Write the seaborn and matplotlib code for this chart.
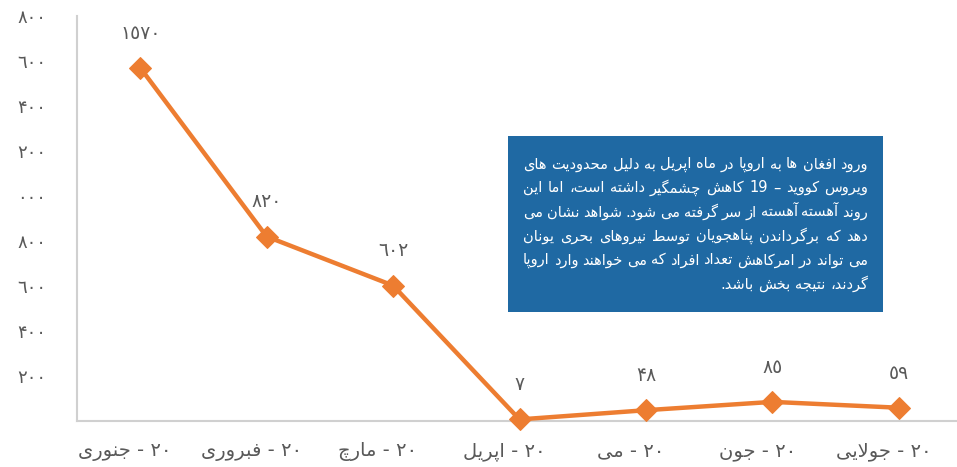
import matplotlib
matplotlib.use("Agg")
import matplotlib.pyplot as plt
import seaborn as sns
import pandas as pd
from matplotlib.patches import Rectangle

# ---------------- data ----------------
months = ["جنوری", "فبروری", "مارچ", "اپریل", "می", "جون", "جولایی"]
year_tag = "20"
arrivals = [1570, 820, 602, 7, 48, 85, 59]
y_ticks = [200, 400, 600, 800, 1000, 1200, 1400, 1600, 1800]
y_tick_labels = ["200", "400", "600", "800", "000", "200", "400", "600", "800"]
note_lines = [
    "ورود افغان ها به اروپا در ماه اپریل به دلیل محدودیت های",
    "ویروس کووید – 19 کاهش چشمگیر داشته است، اما  این",
    "روند آهسته آهسته از سر گرفته می شود. شواهد نشان می",
    "دهد که برگرداندن پناهجویان توسط نیروهای بحری یونان",
    "می تواند در امرکاهش تعداد افراد که می خواهند وارد اروپا",
    "گردند، نتیجه بخش باشد.",
]

# ---------------- Arabic shaping + right-to-left ordering ----------------
def _rng(start, n):
    return tuple(chr(start + k) for k in range(n))

FORMS = {
    "\u0621": ("\uFE80",),
    "\u0622": _rng(0xFE81, 2), "\u0623": _rng(0xFE83, 2), "\u0624": _rng(0xFE85, 2),
    "\u0625": _rng(0xFE87, 2), "\u0626": _rng(0xFE89, 4), "\u0627": _rng(0xFE8D, 2),
    "\u0628": _rng(0xFE8F, 4), "\u0629": _rng(0xFE93, 2), "\u062A": _rng(0xFE95, 4),
    "\u062B": _rng(0xFE99, 4), "\u062C": _rng(0xFE9D, 4), "\u062D": _rng(0xFEA1, 4),
    "\u062E": _rng(0xFEA5, 4), "\u062F": _rng(0xFEA9, 2), "\u0630": _rng(0xFEAB, 2),
    "\u0631": _rng(0xFEAD, 2), "\u0632": _rng(0xFEAF, 2), "\u0633": _rng(0xFEB1, 4),
    "\u0634": _rng(0xFEB5, 4), "\u0635": _rng(0xFEB9, 4), "\u0636": _rng(0xFEBD, 4),
    "\u0637": _rng(0xFEC1, 4), "\u0638": _rng(0xFEC5, 4), "\u0639": _rng(0xFEC9, 4),
    "\u063A": _rng(0xFECD, 4), "\u0641": _rng(0xFED1, 4), "\u0642": _rng(0xFED5, 4),
    "\u0643": _rng(0xFED9, 4), "\u0644": _rng(0xFEDD, 4), "\u0645": _rng(0xFEE1, 4),
    "\u0646": _rng(0xFEE5, 4), "\u0647": _rng(0xFEE9, 4), "\u0648": _rng(0xFEED, 2),
    "\u0649": _rng(0xFEEF, 2), "\u064A": _rng(0xFEF1, 4),
    "\u067E": _rng(0xFB56, 4), "\u0686": _rng(0xFB7A, 4), "\u0698": _rng(0xFB8A, 2),
    "\u06A9": _rng(0xFB8E, 4), "\u06AF": _rng(0xFB92, 4), "\u06CC": _rng(0xFBFC, 4),
}
LAM_ALEF = {"\u0627": ("\uFEFB", "\uFEFC"), "\u0622": ("\uFEF5", "\uFEF6"),
            "\u0623": ("\uFEF7", "\uFEF8"), "\u0625": ("\uFEF9", "\uFEFA")}

def shape_word(w):
    """Return the visual (left-to-right drawn) form of one logical word."""
    if not any(c in FORMS for c in w):
        return w
    units, i = [], 0
    while i < len(w):
        c = w[i]
        if c == "\u0644" and i + 1 < len(w) and w[i + 1] in LAM_ALEF:
            units.append(LAM_ALEF[w[i + 1]]); i += 2
        elif c in FORMS:
            units.append(FORMS[c]); i += 1
        else:
            units.append(c); i += 1
    out = []
    for j, u in enumerate(units):
        if not isinstance(u, tuple):
            out.append(u); continue
        prev = j > 0 and isinstance(units[j - 1], tuple) and len(units[j - 1]) == 4
        nxt = len(u) == 4 and j + 1 < len(units) and isinstance(units[j + 1], tuple) and len(units[j + 1]) > 1
        if len(u) == 4:
            out.append(u[3] if prev and nxt else u[1] if prev else u[2] if nxt else u[0])
        elif len(u) == 2:
            out.append(u[1] if prev else u[0])
        else:
            out.append(u[0])
    return "".join(reversed(out))

def visual_line(s):
    return " ".join(shape_word(w) for w in reversed(s.split(" ")))

FA = str.maketrans("0123456789", "۰۱۲۳۴٥٦۷۸۹")
def fa(s):
    return str(s).translate(FA)

# ---------------- plot ----------------
sns.set_theme(style="white")
plt.rcParams["font.family"] = ["DejaVu Sans"]

W, H = 957, 467
fig = plt.figure(figsize=(W / 100, H / 100), dpi=100)
ax = fig.add_axes([77 / W, 1 - 421 / H, 885 / W, 405 / H])

df = pd.DataFrame({"pos": list(range(len(months))), "value": arrivals})
orange = "#ED7D31"
sns.lineplot(data=df, x="pos", y="value", ax=ax, color=orange, linewidth=3.2,
             marker="D", markersize=11, markeredgecolor=orange, clip_on=False, zorder=3)

ax.set_xlim(-0.5, 6.5)
ax.set_ylim(0, 1800)
# category labels sit slightly left of each point, as in the reference
label_offset = -0.12
ax.set_xticks([p + label_offset for p in df["pos"]])
ax.set_xticklabels([visual_line(f"{fa(year_tag)} - {m}") for m in months],
                   fontsize=14, color="#595959")
ax.set_yticks(y_ticks)
ax.set_yticklabels([fa(t) for t in y_tick_labels], fontsize=13, color="#595959")
ax.tick_params(axis="x", length=0, pad=15)
ax.tick_params(axis="y", length=0, pad=22)
ax.set_xlabel("")
ax.set_ylabel("")
for s in ["top", "right"]:
    ax.spines[s].set_visible(False)
for s in ["left", "bottom"]:
    ax.spines[s].set_color("#d0d0d0")
    ax.spines[s].set_linewidth(1.5)

for x, v in zip(df["pos"], df["value"]):
    ax.annotate(fa(v), (x, v), xytext=(0, 25), textcoords="offset points",
                ha="center", va="center", fontsize=13.5, color="#595959")

# note box
fig.patches.append(Rectangle((508 / W, 1 - 312 / H), 375 / W, 176 / H,
                             transform=fig.transFigure, facecolor="#1F69A3",
                             edgecolor="none", zorder=5))
renderer = fig.canvas.get_renderer()
left_px, right_px = 523, 868
ys = [164, 188, 212, 236, 260, 284]
for k, (line, yc) in enumerate(zip(note_lines, ys)):
    words = line.split()
    texts = [fig.text(0, 1 - yc / H, shape_word(w), ha="right", va="center",
                      fontsize=10.5, color="white", zorder=6) for w in words]
    widths = [t.get_window_extent(renderer).width for t in texts]
    space = texts[0].get_window_extent(renderer).height * 0.28
    if k < len(note_lines) - 1 and len(words) > 1:
        gap = (right_px - left_px - sum(widths)) / (len(words) - 1)
    else:
        gap = space
    x = right_px
    for t, wdt in zip(texts, widths):   # first logical word sits at the right
        t.set_x(x / W)
        x -= wdt + gap

fig.savefig("out.png", dpi=100)
